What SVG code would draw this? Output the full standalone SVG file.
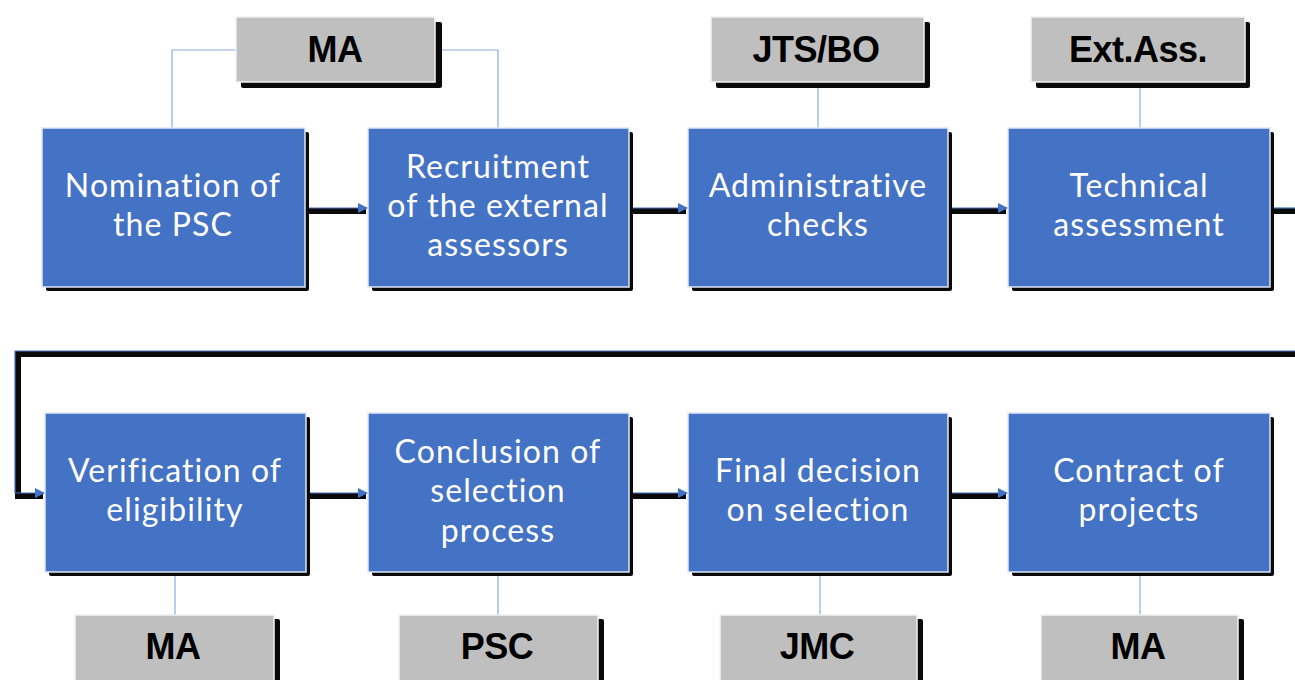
<svg xmlns="http://www.w3.org/2000/svg" width="1295" height="680" viewBox="0 0 1295 680">
<style>
.sh{fill:#0a0a0a}
.blue{fill:#4472C4;stroke:#dfe6f4;stroke-width:1.5}
.gray{fill:#BFBFBF;stroke:#f2f2f2;stroke-width:1.5}
.bt{font-family:Lato,"Open Sans",sans-serif;font-size:32px;letter-spacing:1.1px;fill:#fff;text-anchor:middle}
.gt{font-family:"Liberation Sans",Arial,sans-serif;font-weight:bold;font-size:36px;letter-spacing:-0.5px;fill:#000;text-anchor:middle}
.thick{fill:none;stroke:#0a0a0a;stroke-width:6}
.thin{fill:none;stroke:#4472C4;stroke-width:1.2}
.lead{fill:none;stroke:#8eaadf;stroke-width:1.2}
</style>
<defs>
<marker id="ah" viewBox="0 0 10 10" refX="10" refY="5" markerWidth="10" markerHeight="10" markerUnits="userSpaceOnUse" orient="auto">
<path d="M0,0 L10,5 L0,10 z" fill="#4472C4"/>
</marker>
</defs>
<g id="connectors">
<path class="lead" d="M236,50 H172 V128"/>
<path class="lead" d="M437,50 H498 V128"/>
<path class="lead" d="M818,82 V128"/>
<path class="lead" d="M1140,82 V128"/>
<path class="lead" d="M175,572 V615"/>
<path class="lead" d="M498,572 V615"/>
<path class="lead" d="M820,572 V615"/>
<path class="lead" d="M1140,572 V615"/>
<path class="thick" d="M306,211 H366"/>
<path class="thin" d="M306,208 H368" marker-end="url(#ah)"/>
<path class="thick" d="M630,211 H686"/>
<path class="thin" d="M630,208 H688" marker-end="url(#ah)"/>
<path class="thick" d="M950,211 H1006"/>
<path class="thin" d="M950,208 H1008" marker-end="url(#ah)"/>
<path class="thick" d="M1272,211 H1295"/>
<path class="thin" d="M1272,208 H1295"/>
<path class="thick" d="M1295,354 H18 V496 H43"/>
<path class="thin" d="M1295,351 H15 V493 H45" marker-end="url(#ah)"/>
<path class="thick" d="M308,496 H366"/>
<path class="thin" d="M308,493 H368" marker-end="url(#ah)"/>
<path class="thick" d="M630,496 H686"/>
<path class="thin" d="M630,493 H688" marker-end="url(#ah)"/>
<path class="thick" d="M950,496 H1006"/>
<path class="thin" d="M950,493 H1008" marker-end="url(#ah)"/>
</g>
<g id="n1"><rect class="sh" x="46" y="132" width="263" height="159" rx="2"/><rect class="blue" x="42" y="128" width="263" height="159"/><text class="bt"><tspan x="173" y="197">Nomination of</tspan><tspan x="173" y="236">the PSC</tspan></text></g>
<g id="n2"><rect class="sh" x="372" y="132" width="261" height="159" rx="2"/><rect class="blue" x="368" y="128" width="261" height="159"/><text class="bt"><tspan x="498" y="178">Recruitment</tspan><tspan x="498" y="217">of the external</tspan><tspan x="498" y="256">assessors</tspan></text></g>
<g id="n3"><rect class="sh" x="692" y="132" width="260" height="159" rx="2"/><rect class="blue" x="688" y="128" width="260" height="159"/><text class="bt"><tspan x="818" y="197">Administrative</tspan><tspan x="818" y="236">checks</tspan></text></g>
<g id="n4"><rect class="sh" x="1012" y="132" width="262" height="159" rx="2"/><rect class="blue" x="1008" y="128" width="262" height="159"/><text class="bt"><tspan x="1139" y="197">Technical</tspan><tspan x="1139" y="236">assessment</tspan></text></g>
<g id="n5"><rect class="sh" x="49" y="417" width="261" height="159" rx="2"/><rect class="blue" x="45" y="413" width="261" height="159"/><text class="bt"><tspan x="175" y="482">Verification of</tspan><tspan x="175" y="521">eligibility</tspan></text></g>
<g id="n6"><rect class="sh" x="372" y="417" width="261" height="159" rx="2"/><rect class="blue" x="368" y="413" width="261" height="159"/><text class="bt"><tspan x="498" y="463">Conclusion of</tspan><tspan x="498" y="502">selection</tspan><tspan x="498" y="542">process</tspan></text></g>
<g id="n7"><rect class="sh" x="692" y="417" width="260" height="159" rx="2"/><rect class="blue" x="688" y="413" width="260" height="159"/><text class="bt"><tspan x="818" y="482">Final decision</tspan><tspan x="818" y="521">on selection</tspan></text></g>
<g id="n8"><rect class="sh" x="1012" y="417" width="262" height="159" rx="2"/><rect class="blue" x="1008" y="413" width="262" height="159"/><text class="bt"><tspan x="1139" y="482">Contract of</tspan><tspan x="1139" y="521">projects</tspan></text></g>
<g id="g1"><rect class="sh" x="241" y="22" width="201" height="66" rx="2"/><rect class="gray" x="236" y="17" width="199" height="65"/><text class="gt" x="335" y="62">MA</text></g>
<g id="g2"><rect class="sh" x="716" y="22" width="214" height="66" rx="2"/><rect class="gray" x="711" y="17" width="213" height="65"/><text class="gt" x="816" y="62">JTS/BO</text></g>
<g id="g3"><rect class="sh" x="1036" y="22" width="214" height="66" rx="2"/><rect class="gray" x="1031" y="17" width="214" height="65"/><text class="gt" x="1138" y="62">Ext.Ass.</text></g>
<g id="g4"><rect class="sh" x="80" y="619" width="200" height="70" rx="2"/><rect class="gray" x="75" y="615" width="199" height="70"/><text class="gt" x="173" y="659">MA</text></g>
<g id="g5"><rect class="sh" x="404" y="619" width="200" height="70" rx="2"/><rect class="gray" x="399" y="615" width="199" height="70"/><text class="gt" x="497" y="659">PSC</text></g>
<g id="g6"><rect class="sh" x="725" y="619" width="198" height="70" rx="2"/><rect class="gray" x="720" y="615" width="197" height="70"/><text class="gt" x="817" y="659">JMC</text></g>
<g id="g7"><rect class="sh" x="1046" y="619" width="198" height="70" rx="2"/><rect class="gray" x="1041" y="615" width="197" height="70"/><text class="gt" x="1138" y="659">MA</text></g>
</svg>
